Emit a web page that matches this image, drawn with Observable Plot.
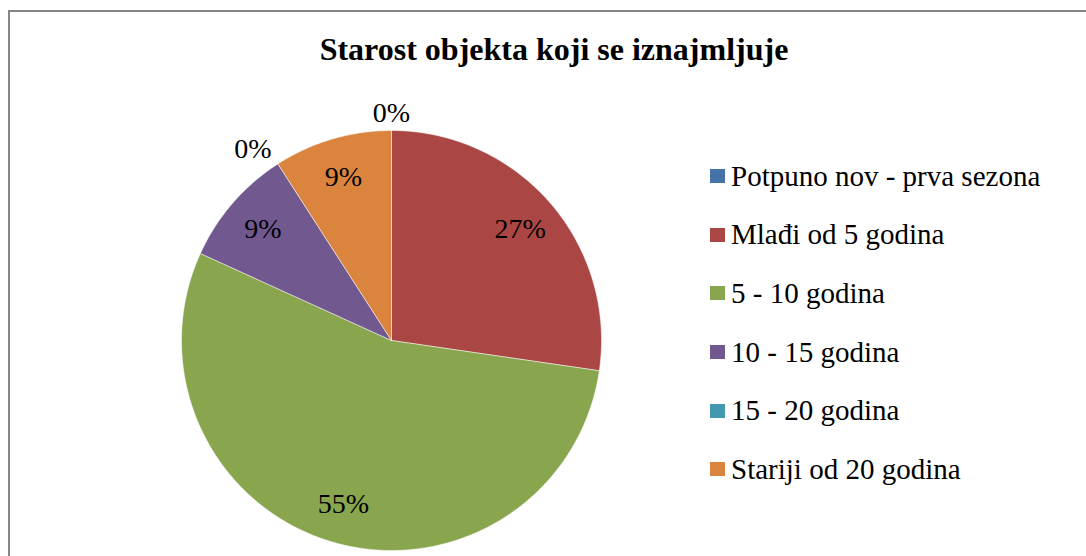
<!DOCTYPE html>
<html>
<head>
<meta charset="utf-8">
<script src="https://cdn.jsdelivr.net/npm/d3@7"></script>
<script src="https://cdn.jsdelivr.net/npm/@observablehq/plot@0.6"></script>
<style>
  html, body { margin: 0; padding: 0; background: #fff; overflow: hidden; }
  #wrap { position: relative; width: 1086px; height: 556px; font-family: "Liberation Serif", "Times New Roman", Tinos, Times, serif; }
  #frame { position: absolute; left: 8px; top: 10px; width: 1100px; height: 600px; border: 2px solid #868686; box-sizing: border-box; }
  #title { position: absolute; left: 0; width: 1108px; top: 31px; text-align: center; font-weight: bold; font-size: 32px; line-height: normal; color: #000; }
  #chart { position: absolute; left: 0; top: 0; }
  #legend { position: absolute; left: 710px; top: 147px; }
  .item { display: flex; align-items: center; height: 58.6px; font-size: 29px; color: #000; white-space: nowrap; }
  .sw { width: 15px; height: 14px; margin-right: 6px; flex: none; }
</style>
</head>
<body>
<div id="wrap">
  <div id="frame"></div>
  <div id="title"></div>
  <div id="chart"></div>
  <div id="legend"></div>
</div>
<script>
const title = "Starost objekta koji se iznajmljuje";
const categories = ["Potpuno nov - prva sezona", "Mlađi od 5 godina", "5 - 10 godina", "10 - 15 godina", "15 - 20 godina", "Stariji od 20 godina"];
const percents = [0, 27.3, 54.5, 9.1, 0, 9.1];
const colors = ["#4572A7", "#AA4643", "#89A54E", "#71588F", "#4198AF", "#DB843D"];

const rows = categories.map((name, i) => ({name, value: percents[i]}));
const arcs = d3.pie().sort(null).value(d => d.value)(rows);

// slice outlines in unit-circle coordinates (angle clockwise from 12 o'clock)
const slicePts = [];
for (const a of arcs) {
  if (a.endAngle - a.startAngle <= 0) continue;
  const n = Math.max(2, Math.ceil((a.endAngle - a.startAngle) / (2 * Math.PI) * 360));
  slicePts.push({name: a.data.name, x: 0, y: 0});
  for (let k = 0; k <= n; k++) {
    const t = a.startAngle + (a.endAngle - a.startAngle) * k / n;
    slicePts.push({name: a.data.name, x: Math.sin(t), y: Math.cos(t)});
  }
  slicePts.push({name: a.data.name, x: 0, y: 0});
}

// inside labels at 0.81 r; empty slices get an outside label pushed out past the rim
const labels = arcs.map(a => {
  const mid = (a.startAngle + a.endAngle) / 2;
  const inside = a.data.value > 0;
  const rx = inside ? 0.81 : 1.22;
  const ry = inside ? 0.81 : 1.085;
  return {text: Math.round(a.data.value) + "%", x: Math.sin(mid) * rx, y: Math.cos(mid) * ry};
});

const serif = "'Liberation Serif', 'Times New Roman', Tinos, Times, serif";
const plot = Plot.plot({
  width: 1086,
  height: 556,
  margin: 0,
  x: {domain: [-1, 1], range: [181, 601], axis: null},
  y: {domain: [-1, 1], range: [550, 130], axis: null},
  color: {domain: categories, range: colors},
  style: {background: "transparent", fontFamily: serif},
  marks: [
    Plot.line(slicePts, {x: "x", y: "y", z: "name", fill: "name", stroke: "#ffffff", strokeWidth: 0.5, curve: "linear"}),
    Plot.text(labels, {x: "x", y: "y", text: "text", fontSize: 28, fontFamily: serif, fill: "#000", textAnchor: "middle", lineAnchor: "middle"})
  ]
});
document.getElementById("chart").appendChild(plot);
document.getElementById("title").textContent = title;

const legend = document.getElementById("legend");
categories.forEach((c, i) => {
  const it = document.createElement("div");
  it.className = "item";
  const sw = document.createElement("span");
  sw.className = "sw";
  sw.style.background = colors[i];
  const tx = document.createElement("span");
  tx.textContent = c;
  it.appendChild(sw); it.appendChild(tx);
  legend.appendChild(it);
});
</script>
</body>
</html>
